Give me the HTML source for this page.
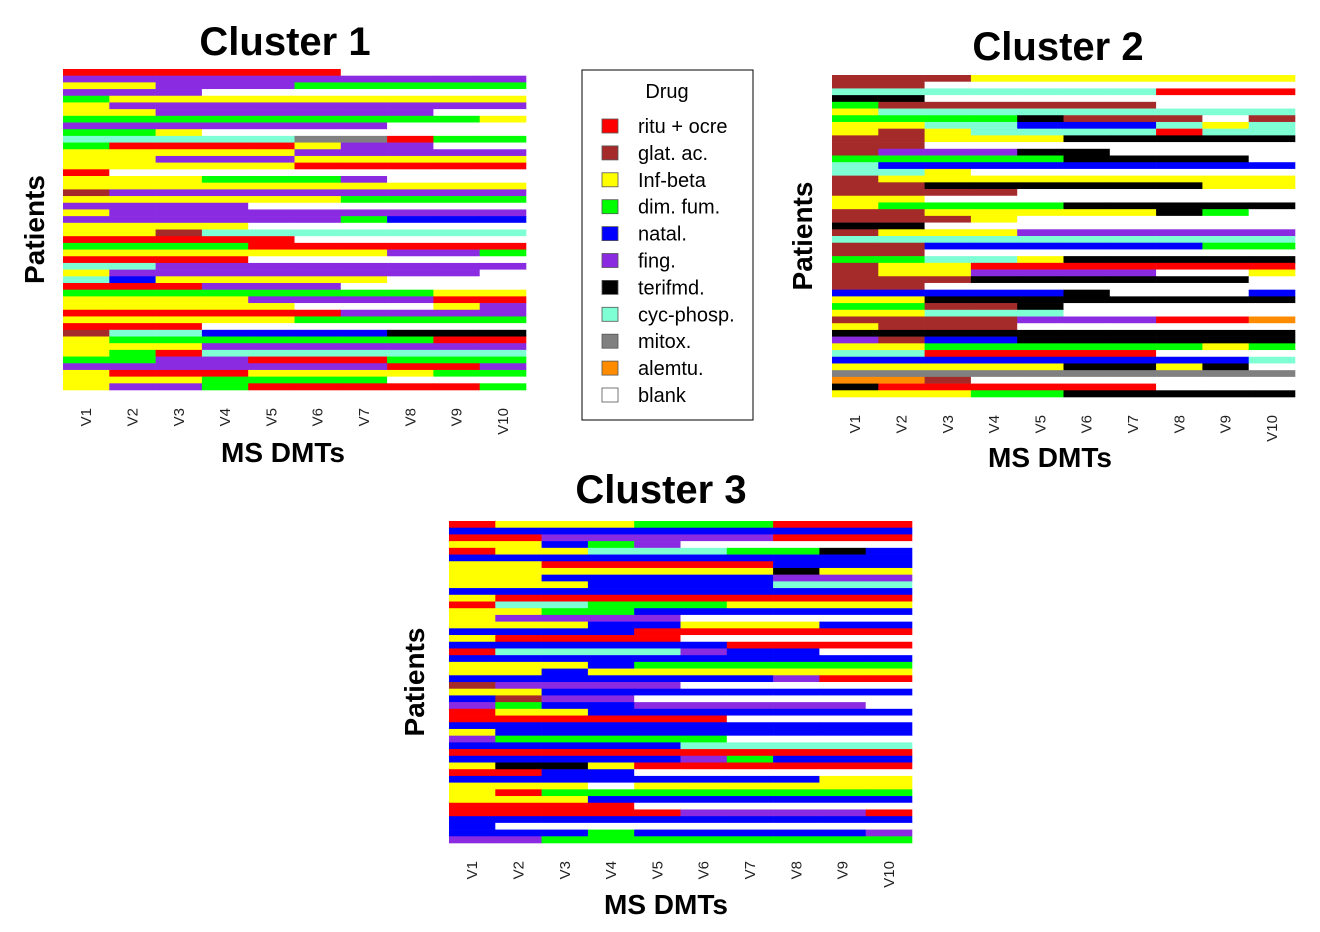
<!DOCTYPE html>
<html><head><meta charset="utf-8"><style>
body{margin:0;background:#fff;}
svg{display:block;font-family:"Liberation Sans",sans-serif;}
.title{font-weight:bold;font-size:40px;}
.axl{font-weight:bold;font-size:28px;}
.tick{font-size:15px;fill:#222;}
.leg{font-size:20px;}
</style></head><body>
<svg id="chart" width="1320" height="932" xmlns="http://www.w3.org/2000/svg">
<rect width="1320" height="932" fill="#fff"/>
<g>
<rect x="582" y="70" width="171" height="350" fill="#fff" stroke="#000" stroke-width="1"/>
<text x="667" y="98" text-anchor="middle" class="leg">Drug</text>
<g id="legendItems"></g>
</g>
</svg>
<script>
const drugCodes = ["R","B","Y","G","N","P","K","C","M","O","W"];
const drugNames = ["ritu + ocre","glat. ac.","Inf-beta","dim. fum.","natal.","fing.","terifmd.","cyc-phosp.","mitox.","alemtu.","blank"];
const drugColors = ["#ff0000","#a52a2a","#ffff00","#00ff00","#0000ff","#8a2be2","#000000","#7fffd4","#808080","#ff8c00","#ffffff"];
const visitLabels = ["V1","V2","V3","V4","V5","V6","V7","V8","V9","V10"];

const cluster1 = ["RRRRRRWWWW","PPPPPPPPPP","YYPPPGGGGG","PPPWWWWWWW","GYYYYYYYYY","YPPPPPPPPP","YYPPPPPPWW","GGGGGGGGGY","PPPPPPPWWW","GGYWWWWWWW","CCCCCMMRGG","GRRRRYPPWW","YYYYYPPPPP","YYPPPYYYYY","YYYYYRRRRR","RWWWWWWWWW","YYYGGGPWWW","YYYYYYYYYY","BPPPPPPPPP","YYYYYYGGGG","PPPPWWWWWW","YPPPPPPPPP","PPPPPPGNNN","YYYYWWWWWW","YYBCCCCCCC","RRRRRWWWWW","GGGGRRRRRR","YYYYYYYPPG","RRRRWWWWWW","CCPPPPPPPP","YPPPPPPPPW","CNYYYYYWWW","RRRPPPWWWW","GGGGGGGGYY","YYYYPPPPRR","YYYYYWWWYP","RRRRRRPPPP","YYYYYGGGGG","RRRWWWWWWW","BCCNNNNKKK","YGGGGGGGRR","YYYPPPPPPP","YGRCCCCCCC","GGPPRRRGGG","PPPPPPPRRP","YRRRYYYYGG","YYYGGGGWWW","YPPGRRRRRG"];
const cluster2 = ["BBBYYYYYYY","BBWWWWWWWW","CCCCCCCRRR","KKWWWWWWWW","GBBBBBBWWW","YCCCCCCCCC","GGGGKBBBWB","YYCCNNNCYC","YBYCCCCRCC","BBYYYKKKKK","BBWWWWWWWW","BPPPKKWWWW","GGGGGKKKKW","CNNNNNNNNN","CCYWWWWWWW","BYYYYYYYYY","BBKKKKKKYY","BBBBWWWWWW","YYWWWWWWWW","YGGGGKKKKK","BBYYYYYKGW","BBBYWWWWWW","KKWWWWWWWW","BYYYPPPPPP","CCCCCCCCCC","BBNNNNNNGG","BBWWWWWWWW","GGCCYKKKKK","BYYRRRRRRR","BYYPPPPWWY","BBBKKKKKKW","BBWWWWWWWW","NNNNNKWWWN","YYKKKKKKKK","GGBBKWWWWW","YYCCCWWWWW","BBBBPPPRRO","YBBBWWWWWW","KKKKKKKKKK","PBNNKKKKKK","YYGGGGGGYG","CCRRRRRWWW","NNNNNNNNNC","YYYYYKKYKW","MMMMMMMMMM","OOBWWWWWWW","KRRRRRRWWW","YYYGGKKKKK"];
const cluster3 = ["RYYYGGGRRR","NNNNNNNNNN","RRPPPPPRRR","YYNGPWWWWW","RYYCCCGGKN","NNNNNNNNNN","YYRRRRRNNN","YYYYYYYKYY","YYNNNNNPPP","YYYNNNNCCC","NNNNNNNNNN","YRRRRRRRRR","RCCGGGYYYY","YYGGNNNNNN","YPPPPWWWWW","YYYNNYYYNN","NNNNRRRRRR","YRRRRWWWWW","NNNNNNRRRR","RCCCCPNNWW","NNNNNNNNNN","YYYNGGGGGG","YYNYYYYYYY","NNNNNNNPRR","BPPPPWWWWW","YYNNNNNNNN","NBPPWWWWWW","PGNNPPPPPW","RYYNNNNNNN","RRRRRRWWWW","NNNNNNNNNN","YNNNNNNNNN","PGGGGGWWWW","NNNNNCCCCC","RRRRRRRRRR","NNNNNPGNNN","YKKYRRRRRR","RRNNWWWWWW","NNNNNNNNYY","YYYWYYYYYY","YRGGGGGGGG","YYYNNNNNNN","RRRRWWWWWW","RRRRRPPPPR","NNNNNNNNNN","NWWWWWWWWW","NNNGNNNNNP","PPGGGGGGGG"];

const NS="http://www.w3.org/2000/svg";
const svg=document.getElementById('chart');
function mk(tag,attrs,parent){const e=document.createElementNS(NS,tag);for(const k in attrs)e.setAttribute(k,attrs[k]);(parent||svg).appendChild(e);return e;}
function colorOf(c){return drugColors[drugCodes.indexOf(c)];}

const panels=[
 {rows:cluster1,x:63,y:69,w:463,h:321,title:"Cluster 1",tx:285,ty:55,px:44,xl:283,xly:462,name:"cluster-1"},
 {rows:cluster2,x:832,y:75,w:463,h:322,title:"Cluster 2",tx:1058,ty:60,px:812,xl:1050,xly:467,name:"cluster-2"},
 {rows:cluster3,x:449,y:521,w:463,h:322,title:"Cluster 3",tx:661,ty:503,px:424,xl:666,xly:914,name:"cluster-3"}
];
panels.forEach(p=>{
 const g=mk('g',{});
 
 
 const xs=i=>p.x+i*p.w/visitLabels.length;
 const ys=j=>p.y+j*p.h/p.rows.length;
 p.rows.forEach((row,j)=>{
  for(let i=0;i<visitLabels.length;i++){
   const r=mk('rect',{x:xs(i),y:ys(j),width:p.w/visitLabels.length+0.3,height:p.h/p.rows.length+0.3,fill:colorOf(row[i])},g);
   
   
  }
 });
 const t=mk('text',{x:p.tx,y:p.ty,'text-anchor':'middle',class:'title'},g);t.textContent=p.title;
 
 
 const yl=mk('text',{x:p.px,y:p.y+p.h/2,'text-anchor':'middle',class:'axl',transform:`rotate(-90 ${p.px} ${p.y+p.h/2})`},g);yl.textContent="Patients";
 
 
 const xl=mk('text',{x:p.xl,y:p.xly,'text-anchor':'middle',class:'axl'},g);xl.textContent="MS DMTs";
 
 
 visitLabels.forEach((v,i)=>{
  const cx=xs(i+0.5)+5, ty=p.y+p.h+18;
  const tk=mk('text',{x:cx,y:ty,'text-anchor':'end',class:'tick',transform:`rotate(-90 ${cx} ${ty})`},g);tk.textContent=v;
  
  
 });
});
const lg=document.getElementById('legendItems');
drugNames.forEach((n,i)=>{
 const cy=126+i*26.9;
 const s=mk('rect',{x:602,y:cy-7,width:16,height:14,fill:drugColors[i],stroke:"#555","stroke-width":0.8},lg);
 
 
 const t=mk('text',{x:638,y:cy+7,class:'leg'},lg);t.textContent=n;
 
 
});
</script>
</body></html>
